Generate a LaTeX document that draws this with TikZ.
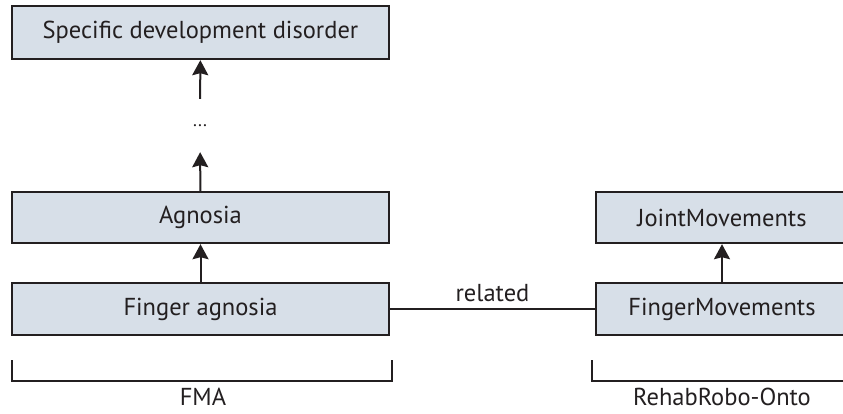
\documentclass[tikz,border=0pt]{standalone}
\usepackage{fontspec}
\setmainfont{PT Sans}
\usetikzlibrary{arrows.meta}
\definecolor{boxfill}{HTML}{D7DFE8}
\definecolor{ink}{HTML}{231F20}
\begin{document}
\begin{tikzpicture}[x=1pt,y=-1pt,
  every node/.style={font=\fontsize{24.5}{28}\selectfont, text=ink},
  concept/.style={draw=ink, line width=2.4pt, fill=boxfill, rectangle,
    inner sep=0pt, minimum height=52pt},
  leftbox/.style={concept, minimum width=377pt},
  rightbox/.style={concept, minimum width=252pt},
  isa/.style={draw=ink, line width=2pt,
    -{Stealth[length=15pt, width=16pt, inset=2pt]}},
  link/.style={draw=ink, line width=2pt},
  brace/.style={draw=ink, line width=1.8pt},
  group/.style={inner sep=0pt, anchor=base}]
  \useasboundingbox (0,0) rectangle (843,413);
  \clip (0,0) rectangle (843,413);

  % left hierarchy
  \node[leftbox, minimum height=53pt] (sdd) at (200.5,32.5) {Specific development disorder};
  \node[inner sep=0pt, minimum height=53pt, font=\fontsize{18}{20}\selectfont] (dots) at (200,125.5) {...};
  \node[leftbox, minimum height=51pt] (agn) at (200.5,217.5) {Agnosia};
  \node[leftbox] (fa) at (200.5,309) {Finger agnosia};

  % right hierarchy
  \node[rightbox, minimum height=51pt] (jm) at (722,217.5) {JointMovements};
  \node[rightbox] (fm) at (722,309) {FingerMovements};

  % subclass arrows
  \draw[isa] (fa) -- (agn);
  \draw[isa] (agn) -- (dots);
  \draw[isa] (dots) -- (sdd);
  \draw[isa] (fm) -- (jm);

  % cross-ontology relation
  \draw[link] (fa) -- node[above=3pt] (rel) {related} (fm);

  % ontology brackets
  \coordinate (fmaA) at (12,360);
  \coordinate (fmaB) at (12,381);
  \coordinate (fmaC) at (392,381);
  \coordinate (fmaD) at (392,360);
  \draw[brace] (fmaA) -- (fmaB) -- (fmaC) -- (fmaD);
  \node[group] (fmalbl) at (203,405) {FMA};

  \coordinate (rrA) at (592,360);
  \coordinate (rrB) at (592,381);
  \coordinate (rrC) at (860,381);
  \draw[brace] (rrA) -- (rrB) -- (rrC);
  \node[group] (rrlbl) at (722,405) {RehabRobo-Onto};
\end{tikzpicture}
\end{document}
